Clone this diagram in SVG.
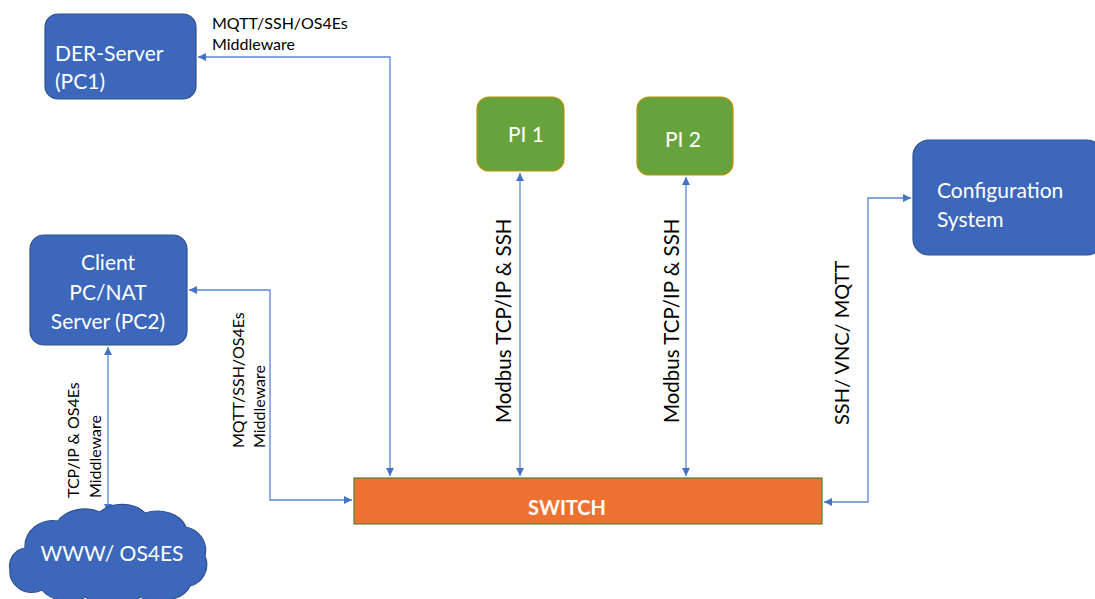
<svg xmlns="http://www.w3.org/2000/svg" width="1095" height="599" viewBox="0 0 1095 599">
<style>
.box{fill:#3c67bb;stroke:#2f528f;stroke-width:1.2}
.pi{fill:#67a33d;stroke:#bf9000;stroke-width:1.2}
.wt{fill:#fff;font-family:Lato,"Open Sans",sans-serif;font-size:21px}
.lbl{fill:#000;font-family:Lato,"Open Sans",sans-serif;font-size:16px}
.vl{fill:#000;font-family:Lato,"Open Sans",sans-serif;font-size:20.5px}
.cn{fill:none;stroke:#5b86d3;stroke-width:1.3}
</style>
<defs>
<marker id="ah" viewBox="0 0 10 10" refX="10" refY="5" markerWidth="8" markerHeight="8" markerUnits="userSpaceOnUse" orient="auto-start-reverse">
<path d="M0,0 L10,5 L0,10 Z" fill="#4472c4"/>
</marker>
</defs>
<rect width="1095" height="599" fill="#fff"/>
<g id="connectors">
<path class="cn" d="M198,57 H390 V476" marker-start="url(#ah)" marker-end="url(#ah)"/>
<path class="cn" d="M189,290 H270 V500 H352" marker-start="url(#ah)" marker-end="url(#ah)"/>
<path class="cn" d="M108,347 V512" marker-start="url(#ah)" marker-end="url(#ah)"/>
<path class="cn" d="M520,173 V476" marker-start="url(#ah)" marker-end="url(#ah)"/>
<path class="cn" d="M686,177 V476" marker-start="url(#ah)" marker-end="url(#ah)"/>
<path class="cn" d="M824,502 H868 V198 H911" marker-start="url(#ah)" marker-end="url(#ah)"/>
</g>
<g id="labels">
<text class="lbl" x="212" y="29">MQTT/SSH/OS4Es</text>
<text class="lbl" x="212" y="50">Middleware</text>
<text class="lbl" transform="translate(79,498) rotate(-90)">TCP/IP &amp; OS4Es</text>
<text class="lbl" transform="translate(101,498) rotate(-90)">Middleware</text>
<text class="lbl" transform="translate(244,448) rotate(-90)">MQTT/SSH/OS4Es</text>
<text class="lbl" transform="translate(265,448) rotate(-90)">Middleware</text>
<text class="vl" transform="translate(511,423) rotate(-90)">Modbus TCP/IP &amp; SSH</text>
<text class="vl" transform="translate(679,423) rotate(-90)">Modbus TCP/IP &amp; SSH</text>
<text class="vl" style="font-size:20px" transform="translate(849,425) rotate(-90)">SSH/ VNC/ MQTT</text>
</g>
<g id="der-server">
<rect class="box" x="45" y="14" width="151" height="85" rx="13"/>
<text class="wt" x="55" y="61">DER-Server</text>
<text class="wt" x="55" y="89">(PC1)</text>
</g>
<g id="client">
<rect class="box" x="30" y="235" width="157" height="110" rx="14"/>
<text class="wt" x="108" y="270" text-anchor="middle">Client</text>
<text class="wt" x="108" y="300" text-anchor="middle">PC/NAT</text>
<text class="wt" x="108" y="329" text-anchor="middle">Server (PC2)</text>
</g>
<g id="www">
<path class="box" d="M25,548 A28,26 0 0 1 58,521 A30,22 0 0 1 100,512 A28,20 0 0 1 145,513 A30,22 0 0 1 186,527 A24,24 0 0 1 205,556 A22,22 0 0 1 190,586 A32,20 0 0 1 140,597 A30,18 0 0 1 86,597 A30,20 0 0 1 42,590 A22,20 0 0 1 10,570 A18,18 0 0 1 25,548 Z"/>
<text class="wt" x="112" y="561" text-anchor="middle">WWW/ OS4ES</text>
</g>
<g id="pi1">
<rect class="pi" x="477" y="97" width="87" height="74" rx="12"/>
<text class="wt" x="526" y="142" text-anchor="middle">PI 1</text>
</g>
<g id="pi2">
<rect class="pi" x="637" y="97" width="96" height="78" rx="12"/>
<text class="wt" x="683" y="147" text-anchor="middle">PI 2</text>
</g>
<g id="config">
<rect class="box" x="913" y="140" width="190" height="115" rx="16"/>
<text class="wt" x="937" y="198">Configuration</text>
<text class="wt" x="937" y="227">System</text>
</g>
<g id="switch">
<rect x="354" y="478" width="468" height="46" fill="#ed7130" stroke="#548235" stroke-width="1.2"/>
<text class="wt" x="567" y="515" text-anchor="middle" font-weight="bold" style="font-size:20px">SWITCH</text>
</g>
</svg>
